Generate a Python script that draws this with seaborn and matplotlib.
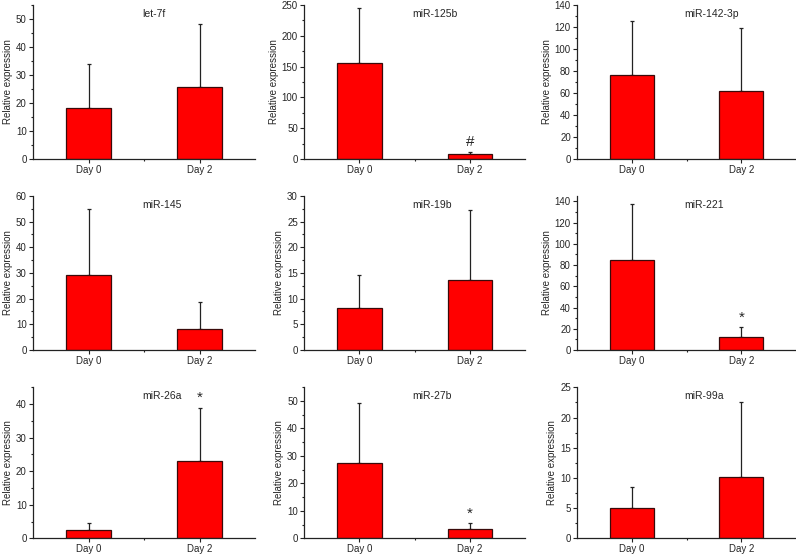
import numpy as np
import matplotlib
matplotlib.use('Agg')
import matplotlib.pyplot as plt
import pandas as pd
import seaborn as sns
from matplotlib.ticker import AutoMinorLocator

genes = ['let-7f', 'miR-125b', 'miR-142-3p',
         'miR-145', 'miR-19b', 'miR-221',
         'miR-26a', 'miR-27b', 'miR-99a']
days = ['Day 0', 'Day 2']
mean_day0 = [18.3, 156.5, 76.6, 29.2, 8.2, 84.8, 2.5, 27.5, 5.1]
mean_day2 = [25.6, 8.1, 61.8, 8.0, 13.7, 12.3, 23.1, 3.5, 10.1]
sd_day0 = [15.5, 89.0, 49.2, 25.7, 6.5, 52.8, 2.0, 21.9, 3.4]
sd_day2 = [22.6, 3.8, 57.6, 10.7, 13.5, 9.3, 15.8, 2.0, 12.4]
ymax = [55, 250, 140, 60, 30, 145, 45, 55, 25]
ystep = [10, 50, 20, 10, 5, 20, 10, 10, 5]
marks = ['', '#', '', '', '', '*', '*', '*', '']
mark_day = [None, 1, None, None, None, 1, 1, 1, None]

sns.set_theme(style='ticks')
plt.rcParams['font.family'] = ['Liberation Sans', 'DejaVu Sans']

fig = plt.figure(figsize=(7.96, 5.56), dpi=100)
lefts = [0.0415, 0.382, 0.725]
widths = [0.279, 0.278, 0.275]
bottoms = [0.714, 0.3705, 0.0315]
heights = [0.277, 0.277, 0.272]

for i, g in enumerate(genes):
    r, c = divmod(i, 3)
    ax = fig.add_axes([lefts[c], bottoms[r], widths[c], heights[r]])
    df = pd.DataFrame({'day': days,
                       'mean': [mean_day0[i], mean_day2[i]],
                       'sd': [sd_day0[i], sd_day2[i]]})
    ax.errorbar([0, 1], df['mean'], yerr=[np.zeros(2), df['sd']], fmt='none',
                ecolor='#222222', elinewidth=0.9, capsize=1.5, capthick=0.9, zorder=1)
    sns.barplot(data=df, x='day', y='mean', color='#ff0000', saturation=1,
                edgecolor='#3a0a0a', linewidth=0.9, width=0.4, ax=ax, zorder=2)
    ax.set_xlim(-0.5, 1.5)
    ax.set_ylim(0, ymax[i])
    ax.set_yticks(np.arange(0, ymax[i] + 0.1, ystep[i]))
    ax.yaxis.set_minor_locator(AutoMinorLocator(2))
    ax.set_xticks([0.5], minor=True)
    ax.set_xlabel('')
    ax.set_ylabel('Relative expression', fontsize=7, labelpad=2)
    ax.tick_params(axis='both', which='major', labelsize=7, length=3, width=0.8,
                   pad=1.5, color='#222222')
    ax.tick_params(axis='x', which='major', pad=1)
    ax.tick_params(axis='both', which='minor', length=1.5, width=0.8, color='#222222')
    for s in ['top', 'right']:
        ax.spines[s].set_visible(False)
    for s in ['left', 'bottom']:
        ax.spines[s].set_linewidth(0.9)
        ax.spines[s].set_color('#222222')
    ax.text(0.49, 0.94, g, transform=ax.transAxes, fontsize=7.5, ha='left', va='center')
    if marks[i]:
        d = mark_day[i]
        top = df['mean'][d] + df['sd'][d]
        ax.annotate(marks[i], (d, top), xytext=(0, 2), textcoords='offset points',
                    ha='center', va='bottom', fontsize=11)

fig.savefig('out.png', dpi=100)
